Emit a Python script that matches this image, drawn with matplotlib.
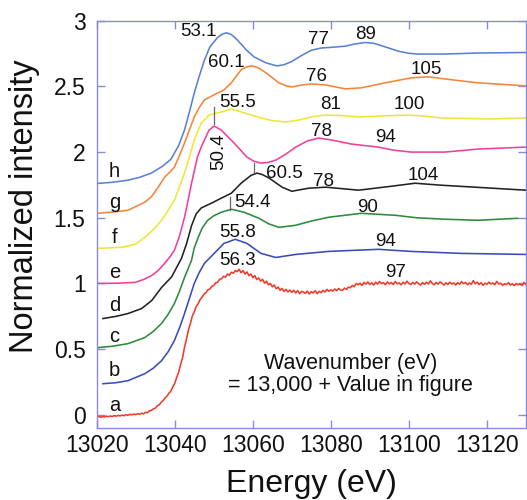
import numpy as np
import matplotlib
matplotlib.use("Agg")
import matplotlib.pyplot as plt

plt.rcParams['font.family'] = ['Liberation Sans', 'DejaVu Sans']

# ---------------- data ----------------
h_E = [13020, 13024, 13028, 13031, 13034, 13037, 13039, 13041, 13042.5, 13043.8, 13045, 13046.3,
       13047.6, 13049, 13050.9, 13052, 13053.2, 13054.5, 13056, 13058.3, 13060.3, 13063.4, 13066.2,
       13068, 13070, 13072.5, 13075, 13077.5, 13080, 13083.7, 13086, 13088.8, 13091, 13094, 13097.3,
       13100, 13102.4, 13109, 13117.7, 13130]
h_v = [1.761, 1.770, 1.786, 1.808, 1.840, 1.895, 1.945, 2.05, 2.168, 2.31, 2.45, 2.58,
       2.70, 2.80, 2.870, 2.895, 2.908, 2.895, 2.855, 2.779, 2.725, 2.679, 2.656,
       2.665, 2.690, 2.735, 2.775, 2.792, 2.797, 2.806, 2.822, 2.834, 2.828, 2.800, 2.768,
       2.752, 2.746, 2.746, 2.754, 2.758]

g_E = [13020, 13024, 13028, 13032.3, 13034, 13035.6, 13037.4, 13039, 13039.9, 13041, 13042.5, 13045,
       13046.3, 13047.6, 13050, 13052.6, 13054.5, 13057, 13058.5, 13059.8, 13061.5, 13063.4, 13066.7,
       13068.5, 13070, 13072.5, 13075.1, 13078.7, 13083.7, 13087.8, 13093.9, 13100.6, 13104.9,
       13109.2, 13117.7, 13130]
g_v = [1.534, 1.543, 1.557, 1.618, 1.66, 1.725, 1.809, 1.855, 1.885, 1.96, 2.069, 2.267,
       2.34, 2.397, 2.435, 2.473, 2.527, 2.626, 2.650, 2.656, 2.640, 2.603, 2.527,
       2.505, 2.496, 2.510, 2.519, 2.511, 2.481, 2.489, 2.527, 2.565, 2.573,
       2.557, 2.527, 2.504]

f_E = [13020, 13026.5, 13030, 13032.3, 13034.5, 13036.6, 13038.3, 13039.9, 13041.2, 13042.5, 13043.8,
       13045, 13046.8, 13048.8, 13051.9, 13054.5, 13057.8, 13062.1, 13065, 13068.5, 13071.8, 13075,
       13078.7, 13083, 13087.1, 13093, 13099.8, 13104, 13108.2, 13121, 13130]
f_v = [1.267, 1.275, 1.300, 1.351, 1.41, 1.481, 1.555, 1.634, 1.735, 1.840, 1.965,
       2.092, 2.221, 2.282, 2.305, 2.328, 2.298, 2.260, 2.240, 2.229, 2.244, 2.268,
       2.282, 2.278, 2.267, 2.275, 2.282, 2.274, 2.260, 2.252, 2.260]

e_E = [13020, 13025, 13029.8, 13032, 13034.1, 13035.8, 13037.4, 13038.7, 13039.9, 13041.2, 13042.5,
       13043.4, 13044.3, 13045.8, 13046.8, 13047.6, 13048.8, 13050.1, 13051.9, 13053.5, 13055.2,
       13058.5, 13060.3, 13062.1, 13064, 13065.9, 13068.5, 13071, 13074, 13076.9, 13080.2, 13085.3,
       13092.2, 13096, 13100.6, 13109.2, 13117.7, 13130]
e_v = [1.000, 1.002, 1.008, 1.030, 1.061, 1.10, 1.153, 1.20, 1.252, 1.36, 1.504,
       1.63, 1.763, 1.962, 2.04, 2.092, 2.168, 2.198, 2.168, 2.12, 2.069,
       1.962, 1.930, 1.916, 1.922, 1.939, 1.985, 2.038, 2.085, 2.107, 2.092, 2.061,
       2.038, 2.015, 2.000, 2.000, 2.023, 2.038]

d_E = [13021.6, 13025, 13028, 13031.5, 13034.1, 13036.6, 13039.2, 13041.7, 13043, 13044.3, 13045.5,
       13046.8, 13049.4, 13051.9, 13054.5, 13057, 13059.6, 13061.1, 13062.5, 13064.2, 13067.5,
       13070, 13074.3, 13078.7, 13087.1, 13095.5, 13101.6, 13108.2, 13116.9, 13130]
d_v = [0.733, 0.750, 0.771, 0.809, 0.870, 0.969, 1.05, 1.19, 1.30, 1.44, 1.53,
       1.575, 1.611, 1.649, 1.687, 1.763, 1.824, 1.840, 1.828, 1.802, 1.733,
       1.702, 1.725, 1.733, 1.710, 1.740, 1.763, 1.748, 1.733, 1.710]

c_E = [13020, 13024, 13028, 13032.3, 13034.5, 13036.6, 13038.3, 13039.9, 13041.2, 13042.5, 13043.4,
       13044.3, 13045, 13046, 13047, 13048.4, 13050, 13051.9, 13054.5, 13057.8, 13061.6, 13064,
       13066.7, 13071, 13075, 13079.4, 13087.8, 13096.5, 13102, 13109.2, 13117.7, 13127.9]
c_v = [0.511, 0.522, 0.542, 0.588, 0.635, 0.695, 0.765, 0.847, 0.94, 1.046, 1.11,
       1.176, 1.27, 1.35, 1.42, 1.48, 1.515, 1.542, 1.565, 1.542, 1.496, 1.455,
       1.427, 1.443, 1.475, 1.504, 1.534, 1.519, 1.500, 1.489, 1.481, 1.496]

b_E = [13021.6, 13025, 13028, 13032.3, 13034.5, 13036.6, 13038.3, 13039.9, 13041.2, 13042.5, 13043.8,
       13045, 13046.3, 13047.6, 13050.1, 13052.6, 13055.5, 13058.5, 13062.1, 13065.9, 13071, 13079.4,
       13092.2, 13100.6, 13113.4, 13130]
b_v = [0.237, 0.245, 0.260, 0.313, 0.355, 0.412, 0.48, 0.565, 0.66, 0.771, 0.89,
       1.000, 1.085, 1.153, 1.229, 1.305, 1.336, 1.305, 1.229, 1.198, 1.221, 1.244,
       1.260, 1.244, 1.229, 1.221]

# curve a: measured at 0.5 eV steps from 13020 to 13130 (noisy data)
a_E = np.arange(13020, 13130.25, 0.5)
a_v = [-0.015, -0.012, -0.018, -0.013, -0.016, -0.010, -0.014, -0.009, -0.012, -0.006,
       -0.010, -0.004, -0.008, -0.002, -0.006, 0.001, -0.003, 0.004, 0.000, 0.006,
       0.002, 0.009, 0.004, 0.012, 0.008, 0.020, 0.016, 0.030, 0.034, 0.045,
       0.050, 0.068, 0.076, 0.095, 0.108, 0.128, 0.142, 0.165, 0.180, 0.212,
       0.240, 0.285, 0.325, 0.385, 0.435, 0.515, 0.575, 0.645, 0.695, 0.752,
       0.785, 0.825, 0.845, 0.878, 0.895, 0.920, 0.930, 0.952, 0.958, 0.978,
       0.985, 1.005, 1.010, 1.032, 1.036, 1.055, 1.048, 1.072, 1.062, 1.085,
       1.078, 1.098, 1.090, 1.108, 1.082, 1.098, 1.072, 1.088, 1.060, 1.072,
       1.045, 1.060, 1.030, 1.042, 1.018, 1.032, 1.002, 1.018, 0.990, 1.000,
       0.975, 0.988, 0.960, 0.972, 0.948, 0.962, 0.940, 0.955, 0.936, 0.950,
       0.932, 0.948, 0.928, 0.945, 0.922, 0.940, 0.935, 0.925, 0.942, 0.920,
       0.938, 0.928, 0.945, 0.922, 0.940, 0.930, 0.948, 0.935, 0.955, 0.940,
       0.952, 0.942, 0.958, 0.945, 0.962, 0.950, 0.948, 0.965, 0.955, 0.972,
       0.968, 0.985, 0.975, 1.000, 0.990, 1.002, 0.985, 1.008, 0.995, 1.012,
       0.992, 1.005, 0.988, 1.010, 0.995, 1.015, 0.998, 1.006, 0.990, 1.012,
       0.996, 1.008, 0.992, 1.015, 0.998, 1.004, 0.990, 1.010, 0.996, 1.018,
       1.000, 0.992, 1.008, 0.995, 1.012, 0.998, 0.988, 1.006, 0.994, 1.010,
       0.996, 1.020, 1.000, 0.990, 1.008, 0.995, 1.012, 1.000, 0.988, 1.005,
       0.992, 1.010, 0.996, 1.004, 0.988, 1.006, 0.994, 1.014, 0.998, 1.008,
       0.990, 1.004, 0.994, 1.022, 0.998, 1.010, 0.992, 1.006, 0.986, 1.002,
       0.994, 1.010, 0.996, 1.004, 0.990, 1.016, 0.996, 1.002, 0.986, 0.998,
       0.992, 1.006, 0.988, 0.998, 0.984, 1.000, 0.990, 0.996, 0.984, 1.008,
       0.992]

curve_names = ['a', 'b', 'c', 'd', 'e', 'f', 'g', 'h']
curve_colors = ['#f03a2a', '#3a4cb8', '#2e8a3e', '#222222', '#f0409a', '#f2e53a', '#f5853a', '#5a82d2']
curve_label_v = [0.07, 0.336, 0.60, 0.83, 1.08, 1.35, 1.62, 1.85]
label_E = 13024.6

# peak annotations: (text, energy, value)
annotations = [
    ('53.1', 13046.1, 2.918), ('77', 13076.9, 2.855), ('89', 13088.9, 2.893),
    ('60.1', 13053.2, 2.679), ('76', 13076.4, 2.573), ('105', 13104.4, 2.626),
    ('55.5', 13056.0, 2.374), ('81', 13080.0, 2.359), ('100', 13100.1, 2.359),
    ('78', 13077.7, 2.153), ('94', 13094.0, 2.111),
    ('60.5', 13068.2, 1.840), ('78', 13078.0, 1.779), ('104', 13103.7, 1.824),
    ('54.4', 13059.8, 1.614), ('90', 13089.4, 1.580),
    ('55.8', 13056.0, 1.389), ('94', 13094.0, 1.320),
    ('56.3', 13056.0, 1.176), ('97', 13096.6, 1.084),
]
rot_annotation = ('50.4', 13051.2, 2.00)
marker_lines = [(13050.1, 2.21, 2.34), (13060.4, 1.84, 1.916), (13054.2, 1.557, 1.656)]

x_ticks = [13020, 13040, 13060, 13080, 13100, 13120]
y_ticks = [0, 0.5, 1, 1.5, 2, 2.5, 3]
y_tick_labels = ['0', '0.5', '1', '1.5', '2', '2.5', '3']

# ---------------- figure ----------------
fig = plt.figure(figsize=(5.27, 5.0), dpi=100)
ax = fig.add_axes([0.1835, 0.144, 0.8145, 0.8146])

series = [(a_E, a_v), (b_E, b_v), (c_E, c_v), (d_E, d_v),
          (e_E, e_v), (f_E, f_v), (g_E, g_v), (h_E, h_v)]
for (E, v), col in zip(series, curve_colors):
    ax.plot(E, v, color=col, lw=1.15, solid_joinstyle='round')

for name, yv in zip(curve_names, curve_label_v):
    ax.text(label_E, yv, name, fontsize=14.5, ha='center', va='center', color='#111111')

for txt, E, v in annotations:
    ax.text(E, v, txt, fontsize=13.5, ha='center', va='center', color='#111111')
ax.text(rot_annotation[1], rot_annotation[2], rot_annotation[0], fontsize=13.5,
        rotation=90, ha='center', va='center', color='#111111')
for E, v0, v1 in marker_lines:
    ax.plot([E, E], [v0, v1], color='#666666', lw=0.9)

ax.text(13085.0, 0.389, 'Wavenumber (eV)', fontsize=15.5, ha='center', va='center', color='#111111')
ax.text(13085.0, 0.221, '= 13,000 + Value in figure', fontsize=15.5, ha='center', va='center', color='#111111')

ax.set_xlim(13020, 13130)
ax.set_ylim(-0.1, 3.0)
ax.set_xticks(x_ticks)
ax.set_yticks(y_ticks)
ax.set_yticklabels(y_tick_labels)

frame_col = '#8a8ad8'
for s in ax.spines.values():
    s.set_color(frame_col)
    s.set_linewidth(1.0)
ax.tick_params(direction='in', length=6, width=1.0, color=frame_col,
               top=True, right=True, labelsize=16.5, labelcolor='#111111')
ax.tick_params(axis='x', pad=4)
ax.tick_params(axis='y', pad=8)

ax.set_xlabel('Energy (eV)', fontsize=23, labelpad=9, color='#111111')
ax.set_ylabel('Normalized intensity', fontsize=23.5, color='#111111')
ax.yaxis.set_label_coords(-0.132, 0.544)

fig.savefig('out.png', dpi=100)
